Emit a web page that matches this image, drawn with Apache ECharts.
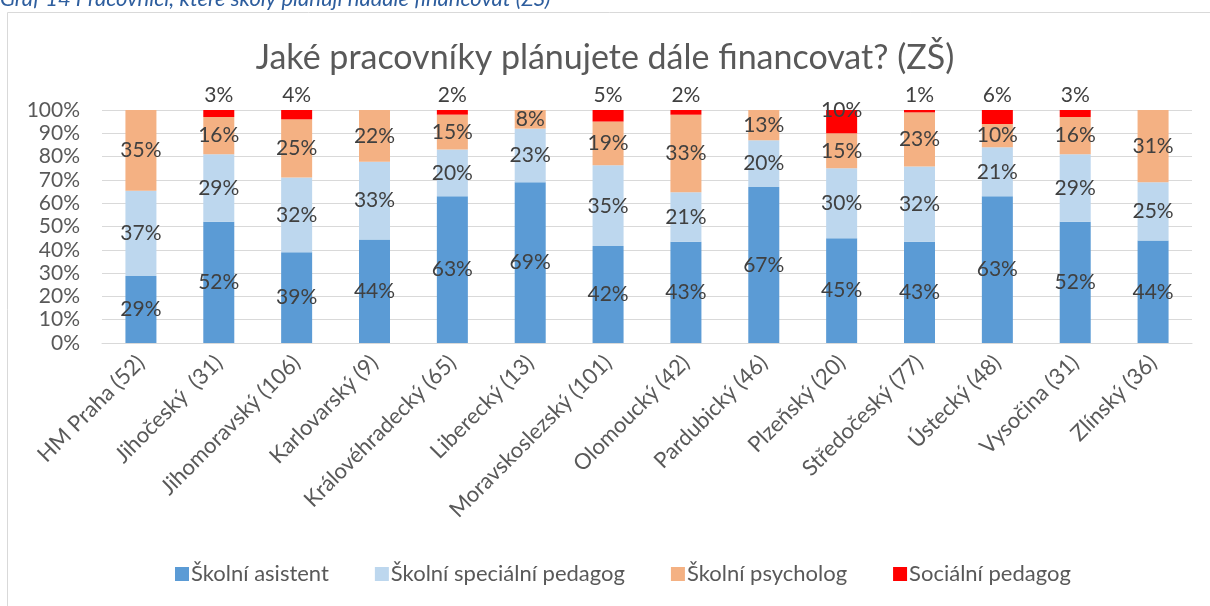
<!DOCTYPE html>
<html>
<head>
<meta charset="utf-8">
<script src="https://cdn.jsdelivr.net/npm/echarts@6/dist/echarts.min.js"></script>
<style>
  html, body { margin: 0; padding: 0; background: #fff; }
  #chart { width: 1210px; height: 606px; }
</style>
</head>
<body>
<div id="chart"></div>
<script>
// kraje (počet škol)
const categories = ['HM Praha (52)', 'Jihočeský  (31)', 'Jihomoravský (106)', 'Karlovarský (9)',
  'Královéhradecký (65)', 'Liberecký (13)', 'Moravskoslezský (101)', 'Olomoucký (42)',
  'Pardubický (46)', 'Plzeňský (20)', 'Středočeský (77)', 'Ústecký (48)', 'Vysočina (31)', 'Zlínský (36)'];

const seriesNames = ['Školní asistent', 'Školní speciální pedagog', 'Školní psycholog', 'Sociální pedagog'];

// hodnoty v %
const asistent = [29, 52, 39, 44, 63, 69, 42, 43, 67, 45, 43, 63, 52, 44];
const specPedagog = [37, 29, 32, 33, 20, 23, 35, 21, 20, 30, 32, 21, 29, 25];
const psycholog = [35, 16, 25, 22, 15, 8, 19, 33, 13, 15, 23, 10, 16, 31];
const socPedagog = [0, 3, 4, 0, 2, 0, 5, 2, 0, 10, 1, 6, 3, 0];

const yTicks = [0, 10, 20, 30, 40, 50, 60, 70, 80, 90, 100];

const rawSeries = [asistent, specPedagog, psycholog, socPedagog];
const colors = ['#5B9BD5', '#BDD7EE', '#F4B183', '#FF0000'];

// 100% skládaný sloupec jako v Excelu
const totals = categories.map((c, i) => rawSeries.reduce((s, arr) => s + arr[i], 0));

const labelFont = { fontFamily: 'Lato', fontSize: 21, color: '#404040' };

const series = rawSeries.map((arr, si) => ({
  name: seriesNames[si],
  type: 'bar',
  stack: 'total',
  barWidth: 31,
  itemStyle: { color: colors[si] },
  label: {
    show: true,
    position: si === 3 ? 'top' : 'inside',
    distance: 4,
    ...labelFont,
    formatter: p => {
      const v = arr[p.dataIndex];
      return v ? v + '%' : '';
    }
  },
  data: arr.map((v, i) => {
    const item = { value: v / totals[i] * 100 };
    if (si === 3 && v >= 8) {
      item.label = { position: 'inside', offset: [0, -11] };
    }
    return item;
  })
}));

const chart = echarts.init(document.getElementById('chart'));
chart.setOption({
  animation: false,
  color: colors,
  title: {
    text: 'Jaké pracovníky plánujete dále financovat? (ZŠ)',
    left: 'center',
    top: 36,
    textStyle: { fontFamily: 'Lato', fontSize: 34, fontWeight: 'normal', color: '#595959' }
  },
  graphic: [
    {
      type: 'rect',
      shape: { x: 7.5, y: 12.5, width: 1220, height: 620 },
      style: { fill: 'none', stroke: '#d9d9d9', lineWidth: 1 },
      silent: true
    },
    {
      type: 'text',
      left: 0,
      top: -12,
      style: {
        text: 'Graf 14 Pracovníci, které školy plánují nadále financovat (ZŠ)',
        fontFamily: 'Lato',
        fontStyle: 'italic',
        fontSize: 22,
        fill: '#2E5E9E'
      }
    }
  ],
  legend: {
    bottom: 16,
    left: 170,
    itemWidth: 14,
    itemHeight: 14,
    itemGap: 46,
    icon: 'rect',
    textStyle: { fontFamily: 'Lato', fontSize: 22, color: '#595959', padding: [0, 0, 0, -3] },
    data: seriesNames
  },
  grid: { left: 102, right: 18, top: 110, bottom: 263 },
  xAxis: {
    type: 'category',
    data: categories,
    axisLine: { lineStyle: { color: '#d9d9d9' } },
    axisTick: { show: false },
    axisLabel: {
      interval: 0,
      rotate: 45,
      margin: 16,
      fontFamily: 'Lato',
      fontSize: 22,
      color: '#595959'
    }
  },
  yAxis: {
    type: 'value',
    min: yTicks[0],
    max: yTicks[yTicks.length - 1],
    interval: yTicks[1] - yTicks[0],
    axisLine: { show: false },
    axisTick: { show: false },
    splitLine: { lineStyle: { color: '#d9d9d9', width: 1 } },
    axisLabel: {
      margin: 22,
      fontFamily: 'Lato',
      fontSize: 21,
      color: '#595959',
      formatter: v => v + '%'
    }
  },
  series
});
</script>
</body>
</html>
